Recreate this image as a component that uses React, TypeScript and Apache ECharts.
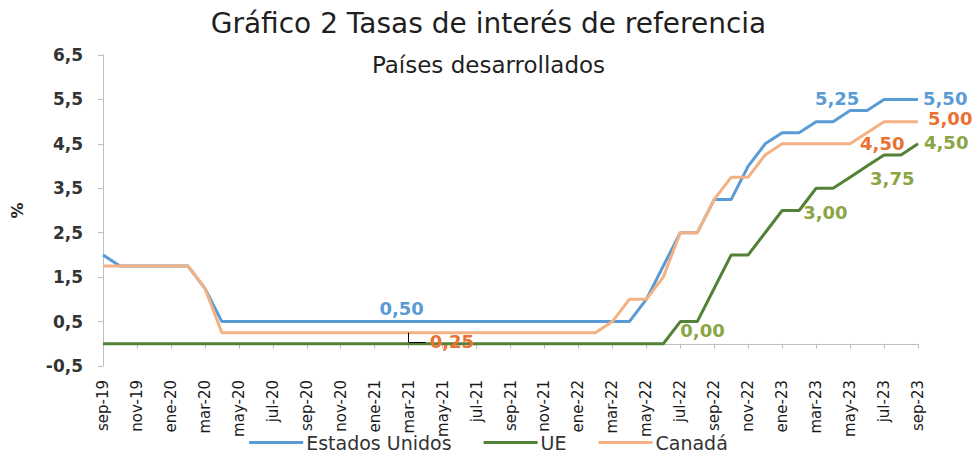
import React, { useEffect, useRef } from "react";
import * as echarts from "echarts";

const categories = [
  "sep-19", "oct-19", "nov-19", "dic-19", "ene-20", "feb-20", "mar-20", "abr-20", "may-20", "jun-20",
  "jul-20", "ago-20", "sep-20", "oct-20", "nov-20", "dic-20", "ene-21", "feb-21", "mar-21", "abr-21",
  "may-21", "jun-21", "jul-21", "ago-21", "sep-21", "oct-21", "nov-21", "dic-21", "ene-22", "feb-22",
  "mar-22", "abr-22", "may-22", "jun-22", "jul-22", "ago-22", "sep-22", "oct-22", "nov-22", "dic-22",
  "ene-23", "feb-23", "mar-23", "abr-23", "may-23", "jun-23", "jul-23", "ago-23", "sep-23",
];

const estadosUnidos = [
  2.0, 1.75, 1.75, 1.75, 1.75, 1.75, 1.25, 0.5, 0.5, 0.5,
  0.5, 0.5, 0.5, 0.5, 0.5, 0.5, 0.5, 0.5, 0.5, 0.5,
  0.5, 0.5, 0.5, 0.5, 0.5, 0.5, 0.5, 0.5, 0.5, 0.5,
  0.5, 0.5, 1.0, 1.75, 2.5, 2.5, 3.25, 3.25, 4.0, 4.5,
  4.75, 4.75, 5.0, 5.0, 5.25, 5.25, 5.5, 5.5, 5.5,
];

const ue = [
  0, 0, 0, 0, 0, 0, 0, 0, 0, 0,
  0, 0, 0, 0, 0, 0, 0, 0, 0, 0,
  0, 0, 0, 0, 0, 0, 0, 0, 0, 0,
  0, 0, 0, 0, 0.5, 0.5, 1.25, 2.0, 2.0, 2.5,
  3.0, 3.0, 3.5, 3.5, 3.75, 4.0, 4.25, 4.25, 4.5,
];

const canada = [
  1.75, 1.75, 1.75, 1.75, 1.75, 1.75, 1.25, 0.25, 0.25, 0.25,
  0.25, 0.25, 0.25, 0.25, 0.25, 0.25, 0.25, 0.25, 0.25, 0.25,
  0.25, 0.25, 0.25, 0.25, 0.25, 0.25, 0.25, 0.25, 0.25, 0.25,
  0.5, 1.0, 1.0, 1.5, 2.5, 2.5, 3.25, 3.75, 3.75, 4.25,
  4.5, 4.5, 4.5, 4.5, 4.5, 4.75, 5.0, 5.0, 5.0,
];

const yTicks = [-0.5, 0.5, 1.5, 2.5, 3.5, 4.5, 5.5, 6.5];

const FONT = "DejaVu Sans";
const BLUE = "#5B9BD5";
const GREEN = "#538135";
const ORANGE = "#F4B183";
const BLUE_LABEL = "#5B9BD5";
const GREEN_LABEL = "#8AA543";
const ORANGE_LABEL = "#E97132";

const fmt2 = (v: number) => v.toFixed(2).replace(".", ",");
const fmt1 = (v: number) => v.toFixed(1).replace(".", ",");

type LabelSpec = { position: string; distance: number; offset: [number, number] };

function buildData(values: number[], color: string, specs: Record<number, LabelSpec>) {
  return values.map((v, i) => {
    const s = specs[i];
    if (!s) return v;
    return {
      value: v,
      symbol: "circle",
      symbolSize: 0,
      label: {
        show: true,
        position: s.position,
        distance: s.distance,
        offset: s.offset,
        color,
        fontFamily: FONT,
        fontWeight: "bold",
        fontSize: 18,
        formatter: (p: any) => fmt2(p.value),
      },
    };
  });
}

const usLabels: Record<number, LabelSpec> = {
  18: { position: "top", distance: 4, offset: [-7, 0] },
  44: { position: "top", distance: 3, offset: [-13, 0] },
  48: { position: "right", distance: 5, offset: [0, -1] },
};
const ueLabels: Record<number, LabelSpec> = {
  33: { position: "right", distance: 17, offset: [0, -13] },
  41: { position: "right", distance: 4, offset: [0, 2] },
  44: { position: "right", distance: 20, offset: [0, 1] },
  48: { position: "right", distance: 6, offset: [0, -1] },
};
const caLabels: Record<number, LabelSpec> = {
  18: { position: "right", distance: 21, offset: [0, 9] },
  44: { position: "right", distance: 10, offset: [0, 0] },
  48: { position: "right", distance: 10, offset: [0, -3] },
};

export default function App() {
  const ref = useRef<HTMLDivElement>(null);

  useEffect(() => {
    if (!ref.current) return;
    const chart = echarts.init(ref.current, null, { renderer: "svg" });
    const option: any = {
      animation: false,
      backgroundColor: "#ffffff",
      textStyle: { fontFamily: FONT },
      title: [
        {
          text: "Gráfico 2 Tasas de interés de referencia",
          left: "center",
          top: 4,
          textStyle: { fontFamily: FONT, fontSize: 28, fontWeight: "normal", color: "#1F1F1F" },
        },
        {
          text: "Países desarrollados",
          left: "center",
          top: 48,
          textStyle: { fontFamily: FONT, fontSize: 23, fontWeight: "normal", color: "#1F1F1F" },
        },
      ],
      legend: {
        bottom: 1,
        left: "center",
        icon: "rect",
        itemWidth: 54,
        itemHeight: 3,
        itemGap: 32,
        textStyle: { fontFamily: FONT, fontSize: 19, color: "#333333", padding: [0, 0, 0, -2] },
        data: ["Estados Unidos", "UE", "Canadá"],
      },
      grid: { left: 103, right: 59, top: 55, bottom: 92, containLabel: false },
      xAxis: {
        type: "category",
        data: categories,
        boundaryGap: false,
        axisLine: { show: true, onZero: true, lineStyle: { color: "#BFBFBF", width: 1 } },
        axisTick: { show: true, interval: 1, length: 5, lineStyle: { color: "#BFBFBF" } },
        axisLabel: {
          interval: 1,
          rotate: 90,
          margin: 14,
          fontFamily: FONT,
          fontSize: 15,
          color: "#1A1A1A",
        },
        splitLine: { show: false },
      },
      yAxis: {
        type: "value",
        min: -0.5,
        max: 6.5,
        name: "%",
        nameLocation: "middle",
        nameRotate: 90,
        nameGap: 78,
        nameTextStyle: { fontFamily: FONT, fontSize: 16, fontWeight: "bold", color: "#262626" },
        axisLine: { show: true, lineStyle: { color: "#BFBFBF", width: 1 } },
        axisTick: { show: true, length: 5, customValues: yTicks, lineStyle: { color: "#BFBFBF" } },
        axisLabel: {
          customValues: yTicks,
          margin: 20,
          fontFamily: FONT,
          fontSize: 17,
          fontWeight: "bold",
          color: "#333333",
          formatter: (v: number) => fmt1(v),
        },
        splitLine: { show: false },
      },
      series: [
        {
          name: "Estados Unidos",
          type: "line",
          symbol: "none",
          lineStyle: { color: BLUE, width: 3 },
          itemStyle: { color: BLUE },
          data: buildData(estadosUnidos, BLUE_LABEL, usLabels),
          z: 2,
        },
        {
          name: "UE",
          type: "line",
          symbol: "none",
          lineStyle: { color: GREEN, width: 3 },
          itemStyle: { color: GREEN },
          data: buildData(ue, GREEN_LABEL, ueLabels),
          z: 3,
        },
        {
          name: "Canadá",
          type: "line",
          symbol: "none",
          lineStyle: { color: ORANGE, width: 3 },
          itemStyle: { color: ORANGE },
          data: buildData(canada, ORANGE_LABEL, caLabels),
          z: 4,
          markLine: {
            silent: true,
            symbol: ["none", "none"],
            label: { show: false },
            lineStyle: { color: "#000000", width: 1, type: "solid" },
            data: [
              [{ coord: [categories[18], 0.25] }, { coord: [categories[18], 0.04] }],
              [{ coord: [categories[18], 0.04] }, { coord: [categories[19], 0.04] }],
            ],
          },
        },
      ],
    };
    chart.setOption(option);
    return () => chart.dispose();
  }, []);

  return (
    <div
      ref={ref}
      style={{ position: "fixed", left: 0, top: 0, width: 977, height: 458 }}
    />
  );
}
